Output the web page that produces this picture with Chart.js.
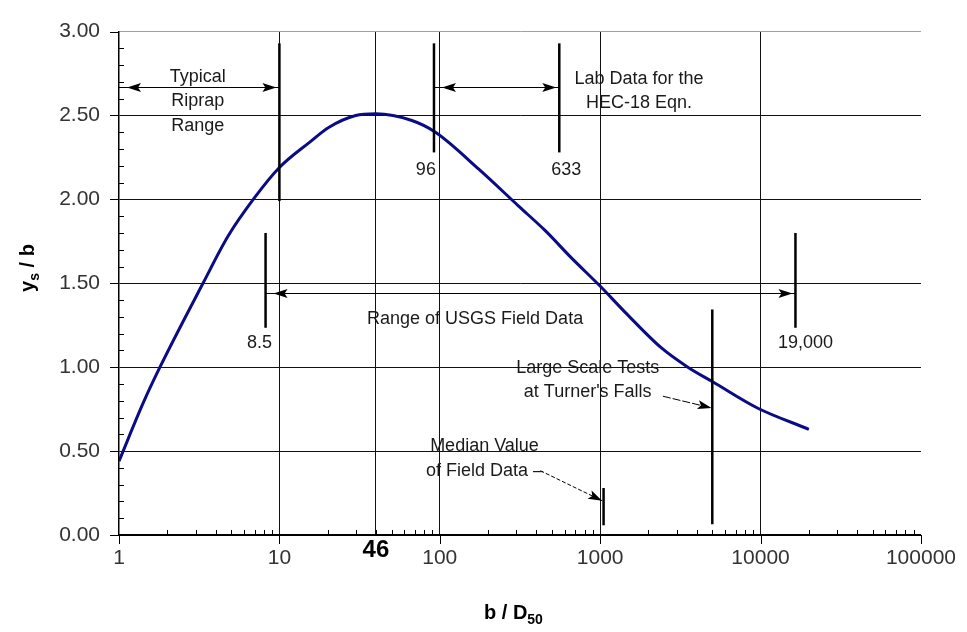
<!DOCTYPE html>
<html>
<head>
<meta charset="utf-8">
<script src="https://cdn.jsdelivr.net/npm/chart.js@4/dist/chart.umd.min.js"></script>
<style>
  html, body { margin: 0; padding: 0; background: #fff; }
  #wrap { width: 967px; height: 632px; position: relative; }
</style>
</head>
<body>
<div id="wrap"><canvas id="scourChart"></canvas></div>
<script>
// scour curve ys/b vs b/D50
const curveX = [1, 1.42, 1.8, 3.34, 4.78, 7.0, 10, 15.4, 20.4, 29.9, 39.8, 67, 94, 175, 310, 453, 664, 995, 1422, 2400, 3520, 5030, 9550, 20000];
const curveY = [0.44, 0.79, 1.00, 1.50, 1.78, 2.01, 2.19, 2.34, 2.43, 2.50, 2.51, 2.47, 2.40, 2.18, 1.96, 1.815, 1.65, 1.485, 1.33, 1.116, 1.00, 0.913, 0.757, 0.63];

// axes
const xMajorTicks = [1, 10, 100, 1000, 10000, 100000];
const xGridLines = [1, 10, 40, 100, 1000, 10000, 100000];
const yTicks = [0, 0.5, 1, 1.5, 2, 2.5, 3];
const peakX = 40;
const peakLabel = '46';

// vertical marker bars: x, bottom, top
const barX = [10, 92, 556, 8.2, 16500, 1050, 5000];
const barLow = [1.99, 2.28, 2.28, 1.235, 1.235, 0.058, 0.064];
const barHigh = [2.93, 2.93, 2.93, 1.80, 1.80, 0.28, 1.344];

// range arrows (double headed): from, to, level
const rangeFrom = [1, 92, 8.2];
const rangeTo = [10, 556, 16500];
const rangeY = [2.667, 2.667, 1.443];

// pointer arrows: start -> end
const pointFromX = [2460, 424];
const pointFromY = [0.827, 0.383];
const pointToX = [4950, 1029];
const pointToY = [0.757, 0.204];

// annotation texts
const noteText = ['Typical', 'Riprap', 'Range', 'Lab Data for the', 'HEC-18 Eqn.', '96', '633', '8.5', '19,000',
  'Range of USGS Field Data', 'Large Scale Tests', "at Turner's Falls", 'Median Value', 'of Field Data \u2013'];
const noteX = [3.1, 3.1, 3.1, 1746, 1746, 81.9, 615, 7.51, 19050, 166, 836, 836, 190, 190];
const noteY = [2.73, 2.585, 2.44, 2.72, 2.574, 2.178, 2.178, 1.147, 1.147, 1.287, 0.996, 0.85, 0.53, 0.383];

const FONT = "'Liberation Sans', Arial, sans-serif";

function arrowHead(ctx, x, y, dir) {
  // dir: angle the tip points to
  const len = 14, half = 4.5;
  ctx.save();
  ctx.translate(x, y);
  ctx.rotate(dir);
  ctx.beginPath();
  ctx.moveTo(0, 0);
  ctx.lineTo(-len, -half);
  ctx.lineTo(-len + 3, 0);
  ctx.lineTo(-len, half);
  ctx.closePath();
  ctx.fill();
  ctx.restore();
}

const scourNotes = {
  id: 'scourNotes',
  afterDatasetsDraw(chart) {
    const ctx = chart.ctx;
    const xs = chart.scales.x, ys = chart.scales.y;
    const area = chart.chartArea;
    ctx.save();
    ctx.fillStyle = '#000';
    ctx.strokeStyle = '#000';

    // axis tick marks: majors outward, minors inward
    ctx.lineWidth = 1;
    ctx.beginPath();
    xMajorTicks.forEach(v => {
      const px = Math.round(xs.getPixelForValue(v)) + 0.5;
      ctx.moveTo(px, area.bottom); ctx.lineTo(px, area.bottom + 9);
    });
    for (let d = 1; d < 100000; d *= 10) {
      for (let m = 2; m <= 9; m++) {
        const px = Math.round(xs.getPixelForValue(d * m)) + 0.5;
        ctx.moveTo(px, area.bottom); ctx.lineTo(px, area.bottom - 5);
      }
    }
    yTicks.forEach(v => {
      const py = Math.round(ys.getPixelForValue(v)) + 0.5;
      ctx.moveTo(area.left - 9, py); ctx.lineTo(area.left, py);
    });
    for (let i = 1; i < 30; i++) {
      if (i % 5 === 0) continue;
      const py = Math.round(ys.getPixelForValue(i / 10)) + 0.5;
      ctx.moveTo(area.left, py); ctx.lineTo(area.left + 5, py);
    }
    ctx.stroke();

    // marker bars
    ctx.lineWidth = 2.5;
    barX.forEach((v, i) => {
      const px = xs.getPixelForValue(v);
      ctx.beginPath();
      ctx.moveTo(px, ys.getPixelForValue(barLow[i]));
      ctx.lineTo(px, ys.getPixelForValue(barHigh[i]));
      ctx.stroke();
    });

    // range arrows
    ctx.lineWidth = 1.2;
    rangeFrom.forEach((v, i) => {
      const x0 = xs.getPixelForValue(v), x1 = xs.getPixelForValue(rangeTo[i]);
      const py = Math.round(ys.getPixelForValue(rangeY[i])) + 0.5;
      ctx.beginPath();
      ctx.moveTo(x0, py); ctx.lineTo(x1, py);
      ctx.stroke();
      arrowHead(ctx, x0 + 8, py, Math.PI);
      arrowHead(ctx, x1 - 3, py, 0);
    });

    // pointer arrows
    pointFromX.forEach((v, i) => {
      const x0 = xs.getPixelForValue(v), y0 = ys.getPixelForValue(pointFromY[i]);
      const x1 = xs.getPixelForValue(pointToX[i]), y1 = ys.getPixelForValue(pointToY[i]);
      ctx.lineWidth = 1;
      ctx.setLineDash(i === 1 ? [4, 2] : [8, 2]);
      ctx.beginPath();
      ctx.moveTo(x0, y0); ctx.lineTo(x1, y1);
      ctx.stroke();
      ctx.setLineDash([]);
      arrowHead(ctx, x1, y1, Math.atan2(y1 - y0, x1 - x0));
    });

    // notes
    ctx.font = '18px ' + FONT;
    ctx.fillStyle = '#1a1a1a';
    ctx.textAlign = 'center';
    ctx.textBaseline = 'middle';
    noteText.forEach((t, i) => {
      ctx.fillText(t, xs.getPixelForValue(noteX[i]), ys.getPixelForValue(noteY[i]));
    });

    // peak value label
    ctx.fillStyle = '#000';
    ctx.font = 'bold 24px ' + FONT;
    ctx.textBaseline = 'top';
    ctx.fillText(peakLabel, xs.getPixelForValue(peakX), area.bottom + 3);

    // axis titles with subscripts
    ctx.font = 'bold 20px ' + FONT;
    ctx.textAlign = 'left';
    ctx.textBaseline = 'alphabetic';
    const bx = 484, by = 619;
    ctx.fillText('b / D', bx, by);
    let w = ctx.measureText('b / D').width;
    ctx.font = 'bold 14px ' + FONT;
    ctx.fillText('50', bx + w, by + 5);

    ctx.translate(34, 268);
    ctx.rotate(-Math.PI / 2);
    ctx.font = 'bold 20px ' + FONT;
    const part1 = 'y', part3 = ' / b';
    ctx.font = 'bold 14px ' + FONT;
    const sw = ctx.measureText('s').width;
    ctx.font = 'bold 20px ' + FONT;
    const total = ctx.measureText(part1).width + sw + ctx.measureText(part3).width;
    let cx = -total / 2;
    ctx.fillText(part1, cx, 0);
    cx += ctx.measureText(part1).width;
    ctx.font = 'bold 14px ' + FONT;
    ctx.fillText('s', cx, 5);
    cx += sw;
    ctx.font = 'bold 20px ' + FONT;
    ctx.fillText(part3, cx, 0);
    ctx.restore();
  }
};

new Chart(document.getElementById('scourChart'), {
  type: 'line',
  data: {
    datasets: [{
      label: 'ys/b',
      data: curveX.map((x, i) => ({ x: x, y: curveY[i] })),
      borderColor: '#0b0b86',
      borderWidth: 3,
      pointRadius: 0,
      cubicInterpolationMode: 'monotone',
      fill: false
    }]
  },
  options: {
    responsive: true,
    maintainAspectRatio: false,
    animation: false,
    layout: { padding: { top: 20, right: 42, left: 0, bottom: 0 } },
    plugins: { legend: { display: false }, tooltip: { enabled: false } },
    scales: {
      x: {
        type: 'logarithmic',
        min: 1, max: 100000,
        afterBuildTicks: s => { s.ticks = xGridLines.map(v => ({ value: v })); },
        afterFit: s => { s.height = 97; },
        ticks: {
          autoSkip: false, maxRotation: 0, padding: 11,
          font: { size: 21, family: FONT }, color: '#333',
          callback: v => xMajorTicks.includes(v) ? String(v) : ''
        },
        grid: {
          drawTicks: false,
          lineWidth: 1,
          color: c => (c.tick && (c.tick.value === 1 || c.tick.value === 100000)) ? 'rgba(0,0,0,0)' : '#111'
        },
        border: { display: true, color: '#000', width: 2 }
      },
      y: {
        min: 0, max: 3,
        afterBuildTicks: s => { s.ticks = yTicks.map(v => ({ value: v })); },
        afterFit: s => { s.width = 119; },
        ticks: {
          padding: 19,
          font: { size: 21, family: FONT }, color: '#333',
          callback: v => Number(v).toFixed(2)
        },
        grid: {
          drawTicks: false,
          lineWidth: 1,
          color: c => (c.tick && c.tick.value === 3) ? '#a0a0a0' : '#111'
        },
        border: { display: true, color: '#000', width: 1.5 }
      }
    }
  },
  plugins: [scourNotes]
});
</script>
</body>
</html>
